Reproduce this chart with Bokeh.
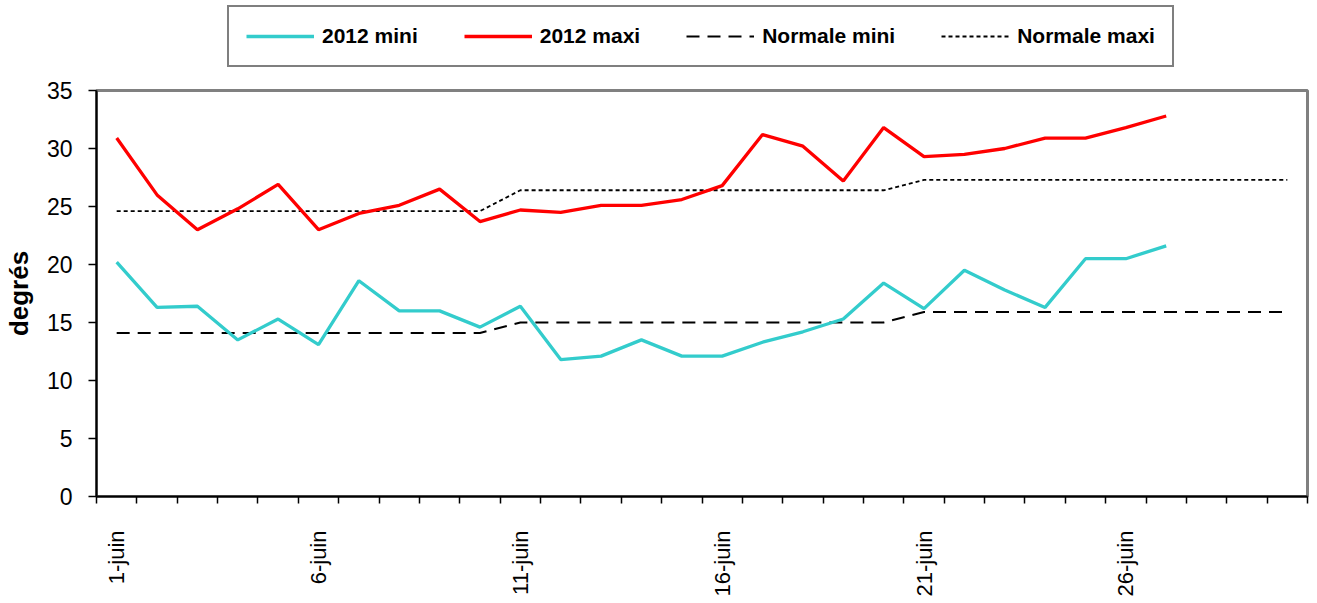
import math
from bokeh.plotting import figure
from bokeh.layouts import column
from bokeh.models import FixedTicker, Legend, LegendItem, Range1d
from bokeh.embed import file_html
from bokeh.resources import INLINE

# ---- data ----
days = ["1-juin", "2-juin", "3-juin", "4-juin", "5-juin", "6-juin", "7-juin", "8-juin",
        "9-juin", "10-juin", "11-juin", "12-juin", "13-juin", "14-juin", "15-juin",
        "16-juin", "17-juin", "18-juin", "19-juin", "20-juin", "21-juin", "22-juin",
        "23-juin", "24-juin", "25-juin", "26-juin", "27-juin", "28-juin", "29-juin",
        "30-juin"]
labelled_days = ["1-juin", "6-juin", "11-juin", "16-juin", "21-juin", "26-juin"]

mini_2012 = [20.2, 16.3, 16.4, 13.5, 15.3, 13.1, 18.6, 16.0, 16.0, 14.6,
             16.4, 11.8, 12.1, 13.5, 12.1, 12.1, 13.3, 14.2, 15.3, 18.4,
             16.2, 19.5, 17.8, 16.3, 20.5, 20.5, 21.6]
maxi_2012 = [30.9, 26.0, 23.0, 24.8, 26.9, 23.0, 24.4, 25.1, 26.5, 23.7,
             24.7, 24.5, 25.1, 25.1, 25.6, 26.8, 31.2, 30.2, 27.2, 31.8,
             29.3, 29.5, 30.0, 30.9, 30.9, 31.8, 32.8]
normale_mini = [14.1, 14.1, 14.1, 14.1, 14.1, 14.1, 14.1, 14.1, 14.1, 14.1,
                15.0, 15.0, 15.0, 15.0, 15.0, 15.0, 15.0, 15.0, 15.0, 15.0,
                15.9, 15.9, 15.9, 15.9, 15.9, 15.9, 15.9, 15.9, 15.9, 15.9]
normale_maxi = [24.6, 24.6, 24.6, 24.6, 24.6, 24.6, 24.6, 24.6, 24.6, 24.6,
                26.4, 26.4, 26.4, 26.4, 26.4, 26.4, 26.4, 26.4, 26.4, 26.4,
                27.3, 27.3, 27.3, 27.3, 27.3, 27.3, 27.3, 27.3, 27.3, 27.3]
y_ticks = [0, 5, 10, 15, 20, 25, 30, 35]
series_names = ["2012 mini", "2012 maxi", "Normale mini", "Normale maxi"]

FONT = "Liberation Sans"
W = 1316

styles = {
    "2012 mini": dict(line_color="#33CCCC", line_width=3.3),
    "2012 maxi": dict(line_color="#FF0000", line_width=3.3),
    "Normale mini": dict(line_color="black", line_width=2, line_dash="13 8"),
    "Normale maxi": dict(line_color="black", line_width=1.8, line_dash="4 3"),
}

idx = {d: i + 1 for i, d in enumerate(days)}
x_all = [idx[d] for d in days]
x_2012 = x_all[:len(mini_2012)]

# ---- main chart ----
fig = figure(width=W, height=522, output_backend="svg", toolbar_location=None,
             x_range=Range1d(0.5, len(days) + 0.5), y_range=Range1d(0, 35),
             min_border_left=96, min_border_right=9, min_border_top=12,
             min_border_bottom=104)
fig.xgrid.visible = False
fig.ygrid.visible = False
fig.outline_line_color = "#808080"
fig.outline_line_width = 3
fig.background_fill_color = "white"
fig.border_fill_color = "white"

fig.line(x_all, normale_maxi, **styles["Normale maxi"])
fig.line(x_all, normale_mini, **styles["Normale mini"])
fig.line(x_2012, mini_2012, **styles["2012 mini"])
fig.line(x_2012, maxi_2012, **styles["2012 maxi"])

xa = fig.xaxis[0]
xa.ticker = FixedTicker(ticks=[idx[d] for d in labelled_days],
                        minor_ticks=[i + 0.5 for i in range(len(days) + 1)])
xa.major_label_overrides = {idx[d]: d for d in labelled_days}
xa.major_label_orientation = math.pi / 2
xa.major_tick_out = 0
xa.major_tick_in = 0
xa.minor_tick_out = 7
xa.minor_tick_in = 0
xa.minor_tick_line_color = "black"
xa.minor_tick_line_width = 1.5
xa.axis_line_color = "black"
xa.axis_line_width = 2
xa.major_label_text_font = FONT
xa.major_label_text_font_size = "22px"
xa.major_label_text_color = "black"
xa.major_label_standoff = 27

ya = fig.yaxis[0]
ya.ticker = FixedTicker(ticks=y_ticks)
ya.major_tick_out = 8
ya.major_tick_in = 0
ya.minor_tick_out = 0
ya.minor_tick_in = 0
ya.major_tick_line_color = "black"
ya.major_tick_line_width = 1.5
ya.axis_line_color = "black"
ya.axis_line_width = 2
ya.major_label_text_font = FONT
ya.major_label_text_font_size = "23px"
ya.major_label_text_color = "black"
ya.major_label_standoff = 16
ya.axis_label = "degrés"
ya.axis_label_text_font = FONT
ya.axis_label_text_font_size = "26px"
ya.axis_label_text_font_style = "bold"
ya.axis_label_text_color = "black"
ya.axis_label_standoff = 10

# ---- legend strip ----
leg_fig = figure(width=W, height=78, output_backend="svg", toolbar_location=None,
                 x_range=Range1d(0, 1), y_range=Range1d(0, 1),
                 x_axis_location=None, y_axis_location=None,
                 min_border_left=0, min_border_right=0, min_border_top=0,
                 min_border_bottom=0)
leg_fig.grid.visible = False
leg_fig.outline_line_color = None
items = []
for name in series_names:
    r = leg_fig.line([float("nan")], [float("nan")], **styles[name])
    items.append(LegendItem(label=name, renderers=[r]))

legend = Legend(items=items, orientation="horizontal", location=(131, 11))
legend.label_text_font = FONT
legend.label_text_font_size = "21px"
legend.label_text_font_style = "bold"
legend.label_text_color = "black"
legend.glyph_width = 68
legend.label_standoff = 8
legend.spacing = 46
legend.padding = 17
legend.margin = 0
legend.border_line_color = "black"
legend.border_line_width = 2
legend.background_fill_alpha = 1
leg_fig.add_layout(legend, "center")

p = column(leg_fig, fig, spacing=0)
open("out.html", "w").write(file_html(p, INLINE))
